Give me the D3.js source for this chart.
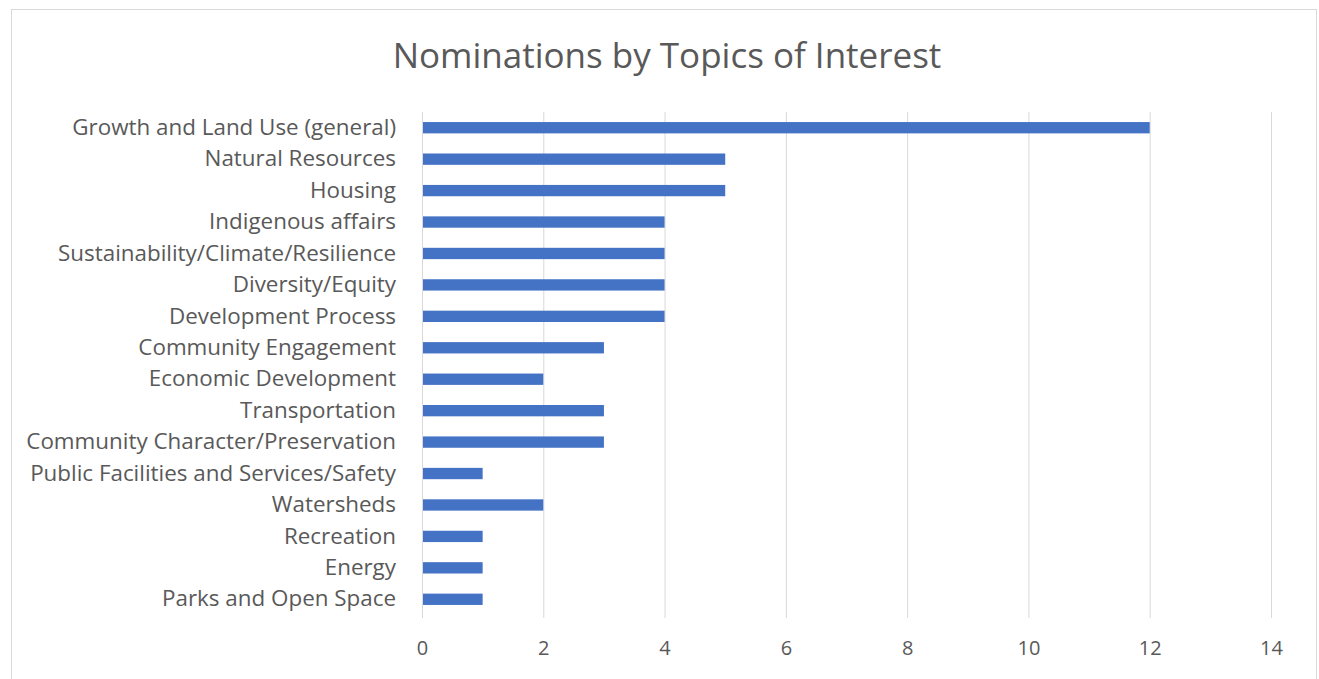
<!DOCTYPE html>
<html>
<head>
<meta charset="utf-8">
<script src="https://cdn.jsdelivr.net/npm/d3@7"></script>
<style>
  html, body { margin: 0; padding: 0; background: #fff; }
  svg { display: block; }
</style>
</head>
<body>
<svg id="chart" width="1319" height="679"></svg>
<script>
const categories = [
  "Growth and Land Use (general)",
  "Natural Resources",
  "Housing",
  "Indigenous affairs",
  "Sustainability/Climate/Resilience",
  "Diversity/Equity",
  "Development Process",
  "Community Engagement",
  "Economic Development",
  "Transportation",
  "Community Character/Preservation",
  "Public Facilities and Services/Safety",
  "Watersheds",
  "Recreation",
  "Energy",
  "Parks and Open Space"
];
const values = [12, 5, 5, 4, 4, 4, 4, 3, 2, 3, 3, 1, 2, 1, 1, 1];
const xTicks = [0, 2, 4, 6, 8, 10, 12, 14];
const title = "Nominations by Topics of Interest";

(function () {
const svg = d3.select("#chart");
const font = "'Open Sans', 'Noto Sans', sans-serif";
const textColor = "#595959";

// chart border
svg.append("rect")
  .attr("x", 11.5).attr("y", 9.5)
  .attr("width", 1305).attr("height", 680)
  .attr("fill", "#fff")
  .attr("stroke", "#d9d9d9").attr("stroke-width", 1);

const pLeft = 422, pRight = 1271, pTop = 112, pBottom = 615;

const x = d3.scaleLinear().domain([0, 14]).range([pLeft, pRight]);
const y = d3.scaleBand().domain(categories).range([pTop, pBottom]).paddingInner(0.64).paddingOuter(0.32);

// gridlines
svg.append("g")
  .selectAll("line")
  .data(xTicks.slice(1))
  .join("line")
  .attr("x1", d => x(d) + 0.5).attr("x2", d => x(d) + 0.5)
  .attr("y1", pTop).attr("y2", pBottom + 3)
  .attr("stroke", "#d9d9d9").attr("stroke-width", 1);

// bars
svg.append("g")
  .selectAll("rect")
  .data(categories)
  .join("rect")
  .attr("x", x(0))
  .attr("y", d => y(d))
  .attr("width", (d, i) => x(values[i]) - x(0))
  .attr("height", y.bandwidth())
  .attr("fill", "#4472C4");

// y axis line
svg.append("line")
  .attr("x1", x(0) + 0.5).attr("x2", x(0) + 0.5)
  .attr("y1", pTop).attr("y2", pBottom + 3)
  .attr("stroke", "#d9d9d9").attr("stroke-width", 1);

// y axis labels
const yAxis = d3.axisLeft(y).tickSize(0).tickPadding(26);
const gy = svg.append("g").attr("transform", `translate(${x(0)},0)`).call(yAxis);
gy.select(".domain").remove();
gy.selectAll("text")
  .attr("font-family", font)
  .attr("font-size", 22.4)
  .attr("fill", textColor);

// x axis labels
const xAxis = d3.axisBottom(x).tickValues(xTicks).tickSize(0).tickPadding(0).tickFormat(d3.format("d"));
const gx = svg.append("g").attr("transform", `translate(0,641)`).call(xAxis);
gx.select(".domain").remove();
gx.selectAll("text")
  .attr("font-family", font)
  .attr("font-size", 20)
  .attr("fill", textColor);

// title
svg.append("text")
  .attr("x", 667).attr("y", 68)
  .attr("text-anchor", "middle")
  .attr("font-family", font)
  .attr("font-size", 35)
  .attr("fill", textColor)
  .text(title);
})();
</script>
</body>
</html>
